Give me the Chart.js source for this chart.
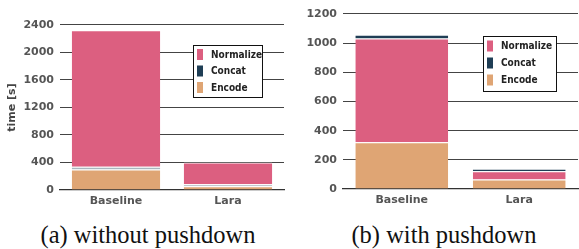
<!DOCTYPE html>
<html>
<head>
<meta charset="utf-8">
<script src="https://cdn.jsdelivr.net/npm/chart.js@4/dist/chart.umd.min.js"></script>
<style>
  html, body { margin: 0; padding: 0; background: #fff; }
  body { width: 579px; height: 249px; position: relative; overflow: hidden; }
  canvas { position: absolute; top: 0; }
  .cap { position: absolute; font-family: "Liberation Serif", serif; font-size: 24.5px; color: #111; white-space: nowrap; transform: translateX(-50%); top: 221px; }
</style>
</head>
<body>
<canvas id="c1" width="290" height="215" style="left:0"></canvas>
<canvas id="c2" width="289" height="215" style="left:290px"></canvas>
<div class="cap" style="left:148px">(a) without pushdown</div>
<div class="cap" style="left:444px">(b) with pushdown</div>
<script>
const categories = ["Baseline", "Lara"];
const legendOrder = ["Normalize", "Concat", "Encode"];
// (a) without pushdown — stacked bottom to top: Encode, Concat, Normalize
const encodeA = [300, 55];
const concatA = [40, 30];
const normalizeA = [1982, 315];
// (b) with pushdown — stacked bottom to top: Encode, Normalize, Concat
const encodeB = [320, 65];
const normalizeB = [712, 57];
const concatB = [26, 17];
const ticksA = [0, 400, 800, 1200, 1600, 2000, 2400];
const ticksB = [0, 200, 400, 600, 800, 1000, 1200];

const colors = { Encode: "#DFA574", Concat: "#1F3E55", Normalize: "#DC5F80" };

const legendPlugin = {
  id: "boxLegend",
  afterDatasetsDraw(chart, args, opts) {
    const ctx = chart.ctx;
    const b = opts.box;
    ctx.save();
    ctx.fillStyle = "#fff";
    ctx.fillRect(b.x, b.y, b.w, b.h);
    ctx.strokeStyle = "#111";
    ctx.lineWidth = 1;
    ctx.strokeRect(b.x + 0.5, b.y + 0.5, b.w, b.h);
    ctx.font = "bold 10px 'DejaVu Sans Condensed', 'DejaVu Sans', sans-serif";
    ctx.textBaseline = "middle";
    ctx.textAlign = "left";
    legendOrder.forEach((name, i) => {
      const cy = b.y + b.first + i * b.step;
      ctx.fillStyle = colors[name];
      ctx.fillRect(b.x + 4, cy - 5.5, 6, 11);
      ctx.fillStyle = "#222";
      ctx.fillText(name, b.x + 18, cy + 0.5);
    });
    ctx.restore();
  }
};

function ds(name, data, bg) {
  return {
    label: name,
    data: data,
    backgroundColor: bg || colors[name],
    borderColor: "rgba(255,255,255,0.8)",
    borderWidth: { top: 1, left: 0, right: 0, bottom: 0 },
    borderSkipped: false,
    barPercentage: 0.79,
    categoryPercentage: 1.0
  };
}

const tickFont = { family: "DejaVu Sans", size: 11, weight: "bold" };

function makeChart(id, datasets, ticks, cfg) {
  return new Chart(document.getElementById(id), {
    type: "bar",
    data: { labels: categories, datasets: datasets },
    plugins: [legendPlugin],
    options: {
      responsive: false,
      animation: false,
      devicePixelRatio: 1,
      layout: { padding: { top: cfg.top, right: cfg.right, left: 0, bottom: 0 } },
      plugins: {
        legend: { display: false },
        tooltip: { enabled: false },
        boxLegend: { box: cfg.box }
      },
      scales: {
        x: {
          stacked: true,
          grid: { display: false, drawTicks: false },
          border: { display: true, color: "#333", width: 1.3 },
          ticks: { color: "#555", font: tickFont, padding: 5 },
          afterFit(s) { s.height = cfg.xh; }
        },
        y: {
          stacked: true,
          min: 0,
          max: ticks[ticks.length - 1],
          afterBuildTicks(s) { s.ticks = ticks.map(v => ({ value: v })); },
          grid: { color: "#444", lineWidth: 1.1, drawTicks: false },
          border: { display: false },
          ticks: { color: "#555", font: tickFont, padding: 6, callback: v => String(v) },
          title: cfg.title ? { display: true, text: cfg.title, color: "#444", font: tickFont, padding: { top: 6, bottom: 0 } } : { display: false },
          afterFit(s) { s.width = cfg.yw; }
        }
      }
    }
  });
}

makeChart("c1", [ds("Encode", encodeA), ds("Concat", concatA, "rgba(31,62,85,0.38)"), ds("Normalize", normalizeA)], ticksA,
  { top: 25, right: 6, xh: 25, yw: 60, title: "time [s]",
    box: { x: 193, y: 45, w: 69, h: 52, first: 9.5, step: 16.5 } });
makeChart("c2", [ds("Encode", encodeB), ds("Normalize", normalizeB), ds("Concat", concatB)], ticksB,
  { top: 14, right: 1, xh: 26, yw: 53, title: null,
    box: { x: 193, y: 36, w: 73, h: 55, first: 10, step: 17 } });
</script>
</body>
</html>
